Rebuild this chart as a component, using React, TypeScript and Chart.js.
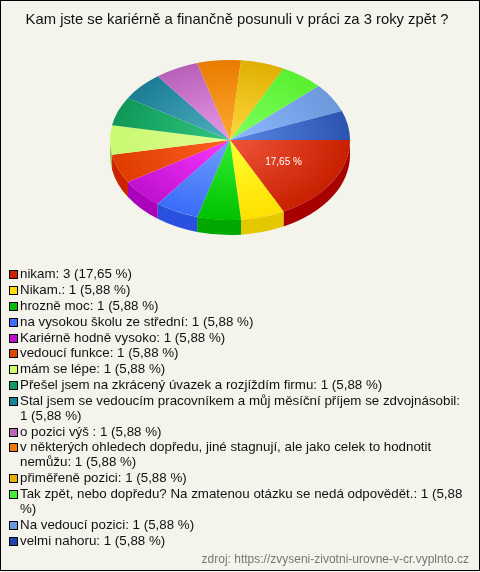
import { useEffect, useRef } from "react";
import { Chart, registerables } from "chart.js";

Chart.register(...registerables);

const titleText = "Kam jste se kariérně a finančně posunuli v práci za 3 roky zpět ?";
const sourceText = "zdroj: https://zvyseni-zivotni-urovne-v-cr.vyplnto.cz";
const categories = [
  "nikam",
  "Nikam.",
  "hrozně moc",
  "na vysokou školu ze střední",
  "Kariérně hodně vysoko",
  "vedoucí funkce",
  "mám se lépe",
  "Přešel jsem na zkrácený úvazek a rozjíždím firmu",
  "Stal jsem se vedoucím pracovníkem a můj měsíční příjem se zdvojnásobil",
  "o pozici výš ",
  "v některých ohledech dopředu, jiné stagnují, ale jako celek to hodnotit nemůžu",
  "přiměřeně pozici",
  "Tak zpět, nebo dopředu? Na zmatenou otázku se nedá odpovědět.",
  "Na vedoucí pozici",
  "velmi nahoru",
];
const counts = [3, 1, 1, 1, 1, 1, 1, 1, 1, 1, 1, 1, 1, 1, 1];
const percents = ["17,65", "5,88", "5,88", "5,88", "5,88", "5,88", "5,88", "5,88", "5,88", "5,88", "5,88", "5,88", "5,88", "5,88", "5,88"];
const innerColors = ["#f0553a", "#ffff30", "#30f030", "#70a0ff", "#f838ff", "#ff6020", "#e0ff90", "#30c880", "#50b0c0", "#e898e8", "#ffa830", "#ffd840", "#80ff60", "#90b8ff", "#5a88e8"];
const outerColors = ["#c82000", "#ffe000", "#00c000", "#3a6cf8", "#c010d0", "#e03c00", "#c8f870", "#109858", "#1c7c94", "#b860b8", "#e87c00", "#e0b000", "#58f030", "#6c98dc", "#2c54b0"];
const wallColors = ["#a80000", "#e6c800", "#00a800", "#2a50e0", "#aa00bb", "#cc2200", "#a0c050", "#0c7040", "#105868", "#8a4a8a", "#b06000", "#a88400", "#40b020", "#5070a8", "#203f88"];
const swatchColors = ["#cc2200", "#ffdd00", "#00bb00", "#3f6fff", "#bb11cc", "#dd4400", "#ccff66", "#119966", "#118899", "#bb66bb", "#ee7700", "#e6b000", "#44ee33", "#6699dd", "#2244aa"];

const FONT = '"Liberation Sans", Arial, sans-serif';
const SQUASH = 2 / 3;
const DEPTH = 15;

function wrap(ctx: CanvasRenderingContext2D, text: string, maxW: number) {
  const lines: string[] = [];
  let cur = "";
  for (const w of text.split(" ")) {
    const t = cur ? cur + " " + w : w;
    if (cur && ctx.measureText(t).width > maxW) {
      lines.push(cur);
      cur = w;
    } else cur = t;
  }
  if (cur) lines.push(cur);
  return lines;
}

const pie3d = {
  id: "pie3d",
  beforeDraw(chart: any) {
    const { ctx, width, height } = chart;
    ctx.save();
    ctx.fillStyle = "#f4f4ec";
    ctx.fillRect(0, 0, width, height);
    ctx.strokeStyle = "#000";
    ctx.lineWidth = 1;
    ctx.strokeRect(0.5, 0.5, width - 1, height - 2);
    ctx.fillStyle = "#111";
    ctx.font = "14.8px " + FONT;
    ctx.textAlign = "center";
    ctx.textBaseline = "alphabetic";
    ctx.fillText(titleText, 237, 24);

    // legend
    ctx.font = "13.33px " + FONT;
    ctx.textAlign = "left";
    let y = 278.4;
    categories.forEach((c, i) => {
      const lines = wrap(ctx, `${c}: ${counts[i]} (${percents[i]} %)`, 448);
      const sy = Math.round(y);
      ctx.fillStyle = "#000";
      ctx.fillRect(9, sy - 8, 9, 9);
      ctx.fillStyle = swatchColors[i];
      ctx.fillRect(10, sy - 7, 7, 7);
      ctx.fillStyle = "#111";
      lines.forEach((l, k) => ctx.fillText(l, 20, y + k * 15));
      y += lines.length * 15 + 0.8;
    });

    ctx.font = "12px " + FONT;
    ctx.fillStyle = "#777";
    ctx.textAlign = "right";
    ctx.fillText(sourceText, 469, 563);
    ctx.restore();
  },
  beforeDatasetsDraw(chart: any) {
    const { ctx } = chart;
    const arcs = chart.getDatasetMeta(0).data;
    const { x: cx, y: cy, outerRadius: r } = arcs[0];
    ctx.save();
    arcs.forEach((a: any, i: number) => {
      const TAU = Math.PI * 2;
      const s = a.startAngle < 0 ? a.startAngle + TAU : a.startAngle;
      const e = s + (a.endAngle - a.startAngle);
      const s1 = Math.max(s, 0);
      const e1 = Math.min(e, Math.PI);
      if (e1 <= s1) return;
      ctx.beginPath();
      ctx.ellipse(cx, cy + DEPTH, r, r * SQUASH, 0, s1, e1);
      ctx.ellipse(cx, cy, r, r * SQUASH, 0, e1, s1, true);
      ctx.closePath();
      ctx.fillStyle = wallColors[i];
      ctx.fill();
    });
    ctx.restore();
    ctx.save();
    ctx.translate(cx, cy);
    ctx.scale(1, SQUASH);
    ctx.translate(-cx, -cy);
  },
  afterDatasetsDraw(chart: any) {
    const { ctx } = chart;
    ctx.restore();
    const arcs = chart.getDatasetMeta(0).data;
    ctx.save();
    ctx.font = "10px " + FONT;
    ctx.fillStyle = "#fff";
    ctx.textAlign = "center";
    ctx.textBaseline = "middle";
    arcs.forEach((a: any, i: number) => {
      if (counts[i] < 2) return;
      const mid = (a.startAngle + a.endAngle) / 2;
      const k = a.outerRadius * 0.525;
      ctx.fillText(`${percents[i]} %`, a.x + k * Math.cos(mid), a.y + k * SQUASH * Math.sin(mid));
    });
    ctx.restore();
  },
};

export default function App() {
  const ref = useRef<HTMLCanvasElement>(null);
  useEffect(() => {
    const chart = new Chart(ref.current!, {
      type: "pie",
      data: {
        labels: categories,
        datasets: [
          {
            data: counts,
            borderWidth: 0,
            backgroundColor: (c: any) => {
              const area = c.chart.chartArea;
              const i = c.dataIndex;
              if (!area || i === undefined) return outerColors[i ?? 0];
              const cx = (area.left + area.right) / 2;
              const cy = (area.top + area.bottom) / 2;
              const g = c.chart.ctx.createRadialGradient(cx, cy, 0, cx, cy, (area.right - area.left) / 2);
              g.addColorStop(0, innerColors[i]);
              g.addColorStop(1, outerColors[i]);
              return g;
            },
          },
        ],
      },
      options: {
        responsive: false,
        animation: false,
        rotation: 90,
        layout: { padding: { left: 110, right: 130, top: 20, bottom: 312 } },
        plugins: { legend: { display: false }, title: { display: false }, tooltip: { enabled: false } },
      },
      plugins: [pie3d],
    } as any);
    return () => chart.destroy();
  }, []);
  return (
    <div style={{ position: "fixed", left: 0, top: 0, width: 480, height: 572 }}>
      <canvas ref={ref} width={480} height={572} style={{ display: "block" }} />
    </div>
  );
}
